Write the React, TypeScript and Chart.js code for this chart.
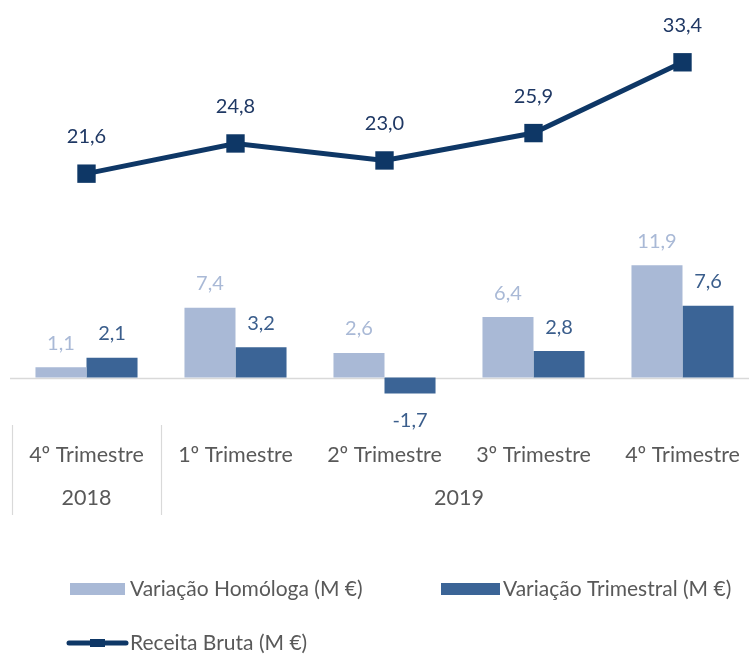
import React, { useEffect, useRef } from "react";
import { Chart, registerables } from "chart.js";

Chart.register(...registerables);

const categories = ["4º Trimestre", "1º Trimestre", "2º Trimestre", "3º Trimestre", "4º Trimestre"];
const yearGroups = [
  { label: "2018", from: 0, to: 0 },
  { label: "2019", from: 1, to: 4 },
];
const variacaoHomologa = [1.1, 7.4, 2.6, 6.4, 11.9];
const variacaoTrimestral = [2.1, 3.2, -1.7, 2.8, 7.6];
const receitaBruta = [21.6, 24.8, 23.0, 25.9, 33.4];
const seriesNames = ["Variação Homóloga (M €)", "Variação Trimestral (M €)", "Receita Bruta (M €)"];

const LIGHT = "#A9B9D6";
const DARK = "#3B6496";
const NAVY = "#0E3766";
const TEXT = "#595959";
const FONT = "Lato, 'Liberation Sans', sans-serif";

const fmt = (v: number) => v.toFixed(1).replace(".", ",");

const overlayPlugin = {
  id: "overlay",
  beforeDatasetsDraw(chart: any) {
    const { ctx, chartArea, scales } = chart;
    const y0 = Math.round(scales.y.getPixelForValue(0)) + 0.5;
    ctx.save();
    ctx.strokeStyle = "#D9D9D9";
    ctx.lineWidth = 1.5;
    ctx.beginPath();
    ctx.moveTo(chartArea.left - 2, y0);
    ctx.lineTo(chartArea.right, y0);
    ctx.stroke();
    ctx.restore();
  },
  afterDraw(chart: any) {
    const { ctx, scales } = chart;
    const x = scales.x;
    ctx.save();
    // value labels
    const labelColors = ["#A9B9D6", "#3B5E8C", "#1F3864"];
    chart.data.datasets.forEach((ds: any, i: number) => {
      const meta = chart.getDatasetMeta(i);
      ctx.font = `20px ${FONT}`;
      ctx.fillStyle = labelColors[i];
      ctx.textAlign = "center";
      ctx.textBaseline = "middle";
      meta.data.forEach((el: any, j: number) => {
        const v = ds.data[j];
        let ty: number;
        if (ds.type === "line") ty = el.y - 37;
        else ty = v >= 0 ? el.y - 24 : el.y + 27;
        ctx.fillText(fmt(v), el.x, ty);
      });
    });
    // category labels
    ctx.fillStyle = TEXT;
    ctx.font = `21.5px ${FONT}`;
    ctx.textAlign = "center";
    ctx.textBaseline = "middle";
    categories.forEach((c, i) => {
      ctx.fillText(c, x.getPixelForValue(i), 455);
    });
    // year labels
    const half = (x.getPixelForValue(1) - x.getPixelForValue(0)) / 2;
    yearGroups.forEach((g) => {
      const cx = (x.getPixelForValue(g.from) + x.getPixelForValue(g.to)) / 2;
      ctx.fillText(g.label, cx, 498);
    });
    // separators
    ctx.strokeStyle = "#D9D9D9";
    ctx.lineWidth = 1.2;
    const seps = [x.getPixelForValue(0) - half, x.getPixelForValue(0) + half];
    seps.forEach((sx) => {
      const px = Math.round(sx) + 0.5;
      ctx.beginPath();
      ctx.moveTo(px, 425);
      ctx.lineTo(px, 515);
      ctx.stroke();
    });
    // legend
    ctx.textAlign = "left";
    ctx.font = `21px ${FONT}`;
    ctx.fillStyle = LIGHT;
    ctx.fillRect(70, 583, 55, 12);
    ctx.fillStyle = TEXT;
    ctx.fillText(seriesNames[0], 130, 589);
    ctx.fillStyle = DARK;
    ctx.fillRect(441, 583, 59, 12);
    ctx.fillStyle = TEXT;
    ctx.fillText(seriesNames[1], 503, 589);
    ctx.strokeStyle = NAVY;
    ctx.lineWidth = 5;
    ctx.lineCap = "round";
    ctx.beginPath();
    ctx.moveTo(69, 643);
    ctx.lineTo(126, 643);
    ctx.stroke();
    ctx.fillStyle = NAVY;
    ctx.fillRect(90, 639, 15, 8);
    ctx.fillStyle = TEXT;
    ctx.fillText(seriesNames[2], 130, 643);
    ctx.restore();
  },
};

export default function App() {
  const ref = useRef<HTMLCanvasElement | null>(null);
  useEffect(() => {
    document.body.style.margin = "0";
    document.body.style.overflow = "hidden";
    if (!ref.current) return;
    const chart = new Chart(ref.current, {
      type: "bar",
      data: {
        labels: categories,
        datasets: [
          {
            type: "bar",
            label: seriesNames[0],
            data: variacaoHomologa,
            backgroundColor: LIGHT,
            borderWidth: 0,
            categoryPercentage: 0.685,
            barPercentage: 1,
            order: 2,
          } as any,
          {
            type: "bar",
            label: seriesNames[1],
            data: variacaoTrimestral,
            backgroundColor: DARK,
            borderWidth: 0,
            categoryPercentage: 0.685,
            barPercentage: 1,
            order: 2,
          } as any,
          {
            type: "line",
            label: seriesNames[2],
            data: receitaBruta,
            borderColor: NAVY,
            backgroundColor: NAVY,
            borderWidth: 5,
            pointStyle: "rect",
            pointRadius: 13,
            pointBorderWidth: 0,
            order: 1,
          } as any,
        ],
      },
      options: {
        responsive: false,
        animation: false,
        devicePixelRatio: 1,
        layout: { autoPadding: false, padding: { left: 12, right: 13, top: 0, bottom: 235 } },
        plugins: { legend: { display: false }, tooltip: { enabled: false } },
        scales: {
          x: { display: false },
          y: { display: false, min: -4.5, max: 40 },
        },
      },
      plugins: [overlayPlugin],
    });
    return () => chart.destroy();
  }, []);
  return (
    <div style={{ position: "absolute", left: 0, top: 0, width: 749, height: 655, overflow: "hidden" }}>
      <canvas ref={ref} width={770} height={655} style={{ width: 770, height: 655 }} />
    </div>
  );
}
